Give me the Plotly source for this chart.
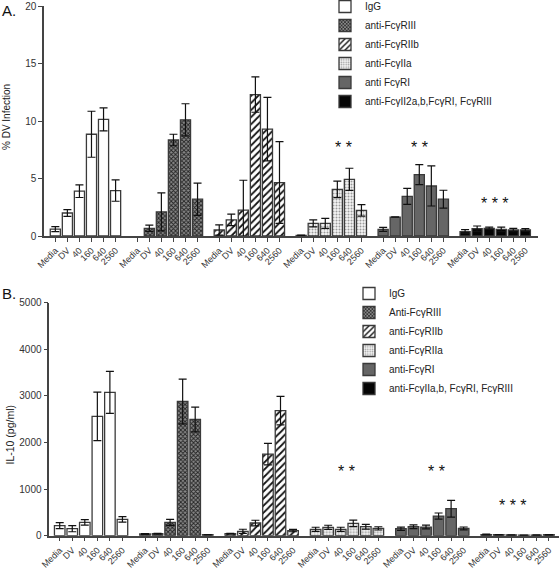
import plotly.graph_objects as go

CATS = ["Media", "DV", "40", "160", "640", "2560"]

NAMES_A = ["IgG", "anti-FcγRIII", "anti-FcγRIIb", "anti-FcγIIa", "anti FcγRI",
           "anti-FcγII2a,b,FcγRI, FcγRIII"]
NAMES_B = ["IgG", "Anti-FcγRIII", "anti-FcγRIIb", "anti-FcγRIIa", "anti-FcγRI",
           "anti-FcγIIa,b, FcγRI, FcγRIII"]

# Panel A: % DV infection (mean, error)
A_IGG = [0.6, 2.0, 3.9, 8.85, 10.15, 3.95]
A_IGG_ERR = [0.22, 0.3, 0.55, 2.0, 1.0, 0.93]
A_RIII = [None, 0.67, 2.1, 8.35, 10.1, 3.2]
A_RIII_ERR = [0, 0.27, 1.65, 0.5, 1.4, 1.4]
A_RIIB = [0.52, 1.4, 2.25, 12.3, 9.3, 4.65]
A_RIIB_ERR = [0.44, 0.5, 2.6, 1.54, 2.76, 3.55]
A_IIA = [0.05, 1.1, 1.1, 4.05, 4.93, 2.23]
A_IIA_ERR = [0.03, 0.3, 0.43, 0.72, 0.96, 0.5]
A_RI = [0.58, 1.65, 3.45, 5.33, 4.35, 3.2]
A_RI_ERR = [0.17, 0.02, 0.7, 0.87, 1.74, 0.78]
A_ALL = [0.38, 0.64, 0.67, 0.58, 0.52, 0.52]
A_ALL_ERR = [0.17, 0.23, 0.1, 0.2, 0.15, 0.12]

# Panel B: IL-10 (pg/ml)
B_IGG = [215, 150, 285, 2560, 3075, 350]
B_IGG_ERR = [65, 65, 60, 520, 450, 60]
B_RIII = [38, 43, 285, 2880, 2495, 20]
B_RIII_ERR = [8, 8, 65, 480, 265, 5]
B_RIIB = [43, 93, 272, 1750, 2685, 110]
B_RIIB_ERR = [8, 45, 60, 230, 305, 25]
B_RIIA = [136, 179, 136, 265, 193, 157]
B_RIIA_ERR = [45, 45, 45, 70, 50, 35]
B_RI = [150, 193, 186, 422, 579, 157]
B_RI_ERR = [35, 40, 40, 65, 180, 30]
B_ALL = [25, 20, 15, 10, 12, 20]
B_ALL_ERR = [8, 5, 4, 3, 4, 6]

SIG_A = [("* *", 3, 3.5, 7.7), ("* *", 4, 3.0, 7.7), ("* * *", 5, 2.45, 2.8)]
SIG_B = [("* *", 3, 2.5, 1380), ("* *", 4, 2.85, 1380), ("* * *", 5, 2.15, 640)]

STRIDE = 6.8
FONT = "Liberation Sans, Arial, sans-serif"
OUTLINE = "#3a3a3a"

STYLES = [
    dict(color="white"),
    dict(color="#777", pattern=dict(shape="x", fgcolor="#222", bgcolor="#8a8a8a", size=3, solidity=0.5)),
    dict(color="white", pattern=dict(shape="/", fgcolor="#111", bgcolor="white", size=5, solidity=0.35)),
    dict(color="#e6e6e6", pattern=dict(shape=".", fgcolor="#9a9a9a", bgcolor="#f6f6f6", size=3, solidity=0.35)),
    dict(color="#666666"),
    dict(color="#050505"),
]


def xs(g):
    return [g * STRIDE + i for i in range(len(CATS))]


fig = go.Figure()

panels = [
    ("x", "y", "legend", NAMES_A,
     [A_IGG, A_RIII, A_RIIB, A_IIA, A_RI, A_ALL],
     [A_IGG_ERR, A_RIII_ERR, A_RIIB_ERR, A_IIA_ERR, A_RI_ERR, A_ALL_ERR]),
    ("x2", "y2", "legend2", NAMES_B,
     [B_IGG, B_RIII, B_RIIB, B_RIIA, B_RI, B_ALL],
     [B_IGG_ERR, B_RIII_ERR, B_RIIB_ERR, B_RIIA_ERR, B_RI_ERR, B_ALL_ERR]),
]

for xa, ya, leg, names, vals, errs in panels:
    for g, (nm, v, e, st) in enumerate(zip(names, vals, errs, STYLES)):
        marker = dict(color=st["color"], line=dict(color=OUTLINE, width=1.3))
        if "pattern" in st:
            marker["pattern"] = dict(st["pattern"], fillmode="replace")
        fig.add_trace(go.Bar(
            x=xs(g), y=v, name=nm, xaxis=xa, yaxis=ya, legend=leg,
            width=0.84, marker=marker,
            error_y=dict(type="data", array=e, color="#111", thickness=1.2, width=4),
        ))

tickvals = [x for g in range(6) for x in xs(g)]
ticktext = CATS * 6

axis_common = dict(showline=True, linecolor="#444", linewidth=1.5, ticks="outside",
                   tickcolor="#444", ticklen=4, showgrid=False, zeroline=False,
                   tickfont=dict(family=FONT, size=10, color="#333"))
xtickfont = dict(family=FONT, size=9, color="#333")

annotations = []
for txt, g, slot, yv in SIG_A:
    annotations.append(dict(x=g * STRIDE + slot, y=yv, xref="x", yref="y", text=txt,
                            showarrow=False, font=dict(family=FONT, size=16, color="#111")))
for txt, g, slot, yv in SIG_B:
    annotations.append(dict(x=g * STRIDE + slot, y=yv, xref="x2", yref="y2", text=txt,
                            showarrow=False, font=dict(family=FONT, size=16, color="#111")))
annotations += [
    dict(x=0, y=1.0, xref="paper", yref="paper", text="A.", showarrow=False,
         xanchor="left", yanchor="top", font=dict(family=FONT, size=15, color="#111")),
    dict(x=0, y=1 - 283 / 573, xref="paper", yref="paper", text="B.", showarrow=False,
         xanchor="left", yanchor="top", font=dict(family=FONT, size=15, color="#111")),
    dict(x=6 / 560, y=1 - 117 / 573, xref="paper", yref="paper", text="% DV Infection",
         textangle=-90, showarrow=False, xanchor="center", yanchor="middle",
         font=dict(family=FONT, size=10, color="#222")),
    dict(x=9.5 / 560, y=1 - 435 / 573, xref="paper", yref="paper", text="IL-10 (pg/ml)",
         textangle=-90, showarrow=False, xanchor="center", yanchor="middle",
         font=dict(family=FONT, size=10.5, color="#222")),
]

fig.update_layout(
    width=560, height=573,
    margin=dict(l=0, r=0, t=0, b=0, autoexpand=False),
    paper_bgcolor="white", plot_bgcolor="white",
    barmode="overlay",
    font=dict(family=FONT, size=10, color="#222"),
    xaxis=dict(axis_common, domain=[44 / 560, 538 / 560], range=[-0.94, 40.05],
               tickvals=tickvals, ticktext=ticktext, tickangle=-45, anchor="y",
               tickfont=xtickfont, automargin=False),
    yaxis=dict(axis_common, domain=[1 - 236 / 573, 1 - 6 / 573], range=[0, 20],
               tickvals=[0, 5, 10, 15, 20], anchor="x", automargin=False),
    xaxis2=dict(axis_common, domain=[49.3 / 560, 559 / 560], range=[-0.83, 39.8],
                tickvals=tickvals, ticktext=ticktext, tickangle=-45, anchor="y2",
                tickfont=xtickfont, automargin=False),
    yaxis2=dict(axis_common, domain=[1 - 535.7 / 573, 1 - 302.7 / 573], range=[0, 5000],
                tickvals=[0, 1000, 2000, 3000, 4000, 5000], anchor="x2", automargin=False),
    legend=dict(x=325 / 560, y=1 + 8 / 573, xanchor="left", yanchor="top", bgcolor="rgba(0,0,0,0)",
                font=dict(family=FONT, size=10, color="#222"), traceorder="normal"),
    legend2=dict(x=349 / 560, y=1 - 279 / 573, xanchor="left", yanchor="top", bgcolor="rgba(0,0,0,0)",
                 font=dict(family=FONT, size=10, color="#222"), traceorder="normal"),
    annotations=annotations,
    showlegend=True,
)

fig.write_html(
    "out.html",
    config={"displayModeBar": False},
    post_script="document.body.style.margin='0';document.body.style.overflow='hidden';",
)
